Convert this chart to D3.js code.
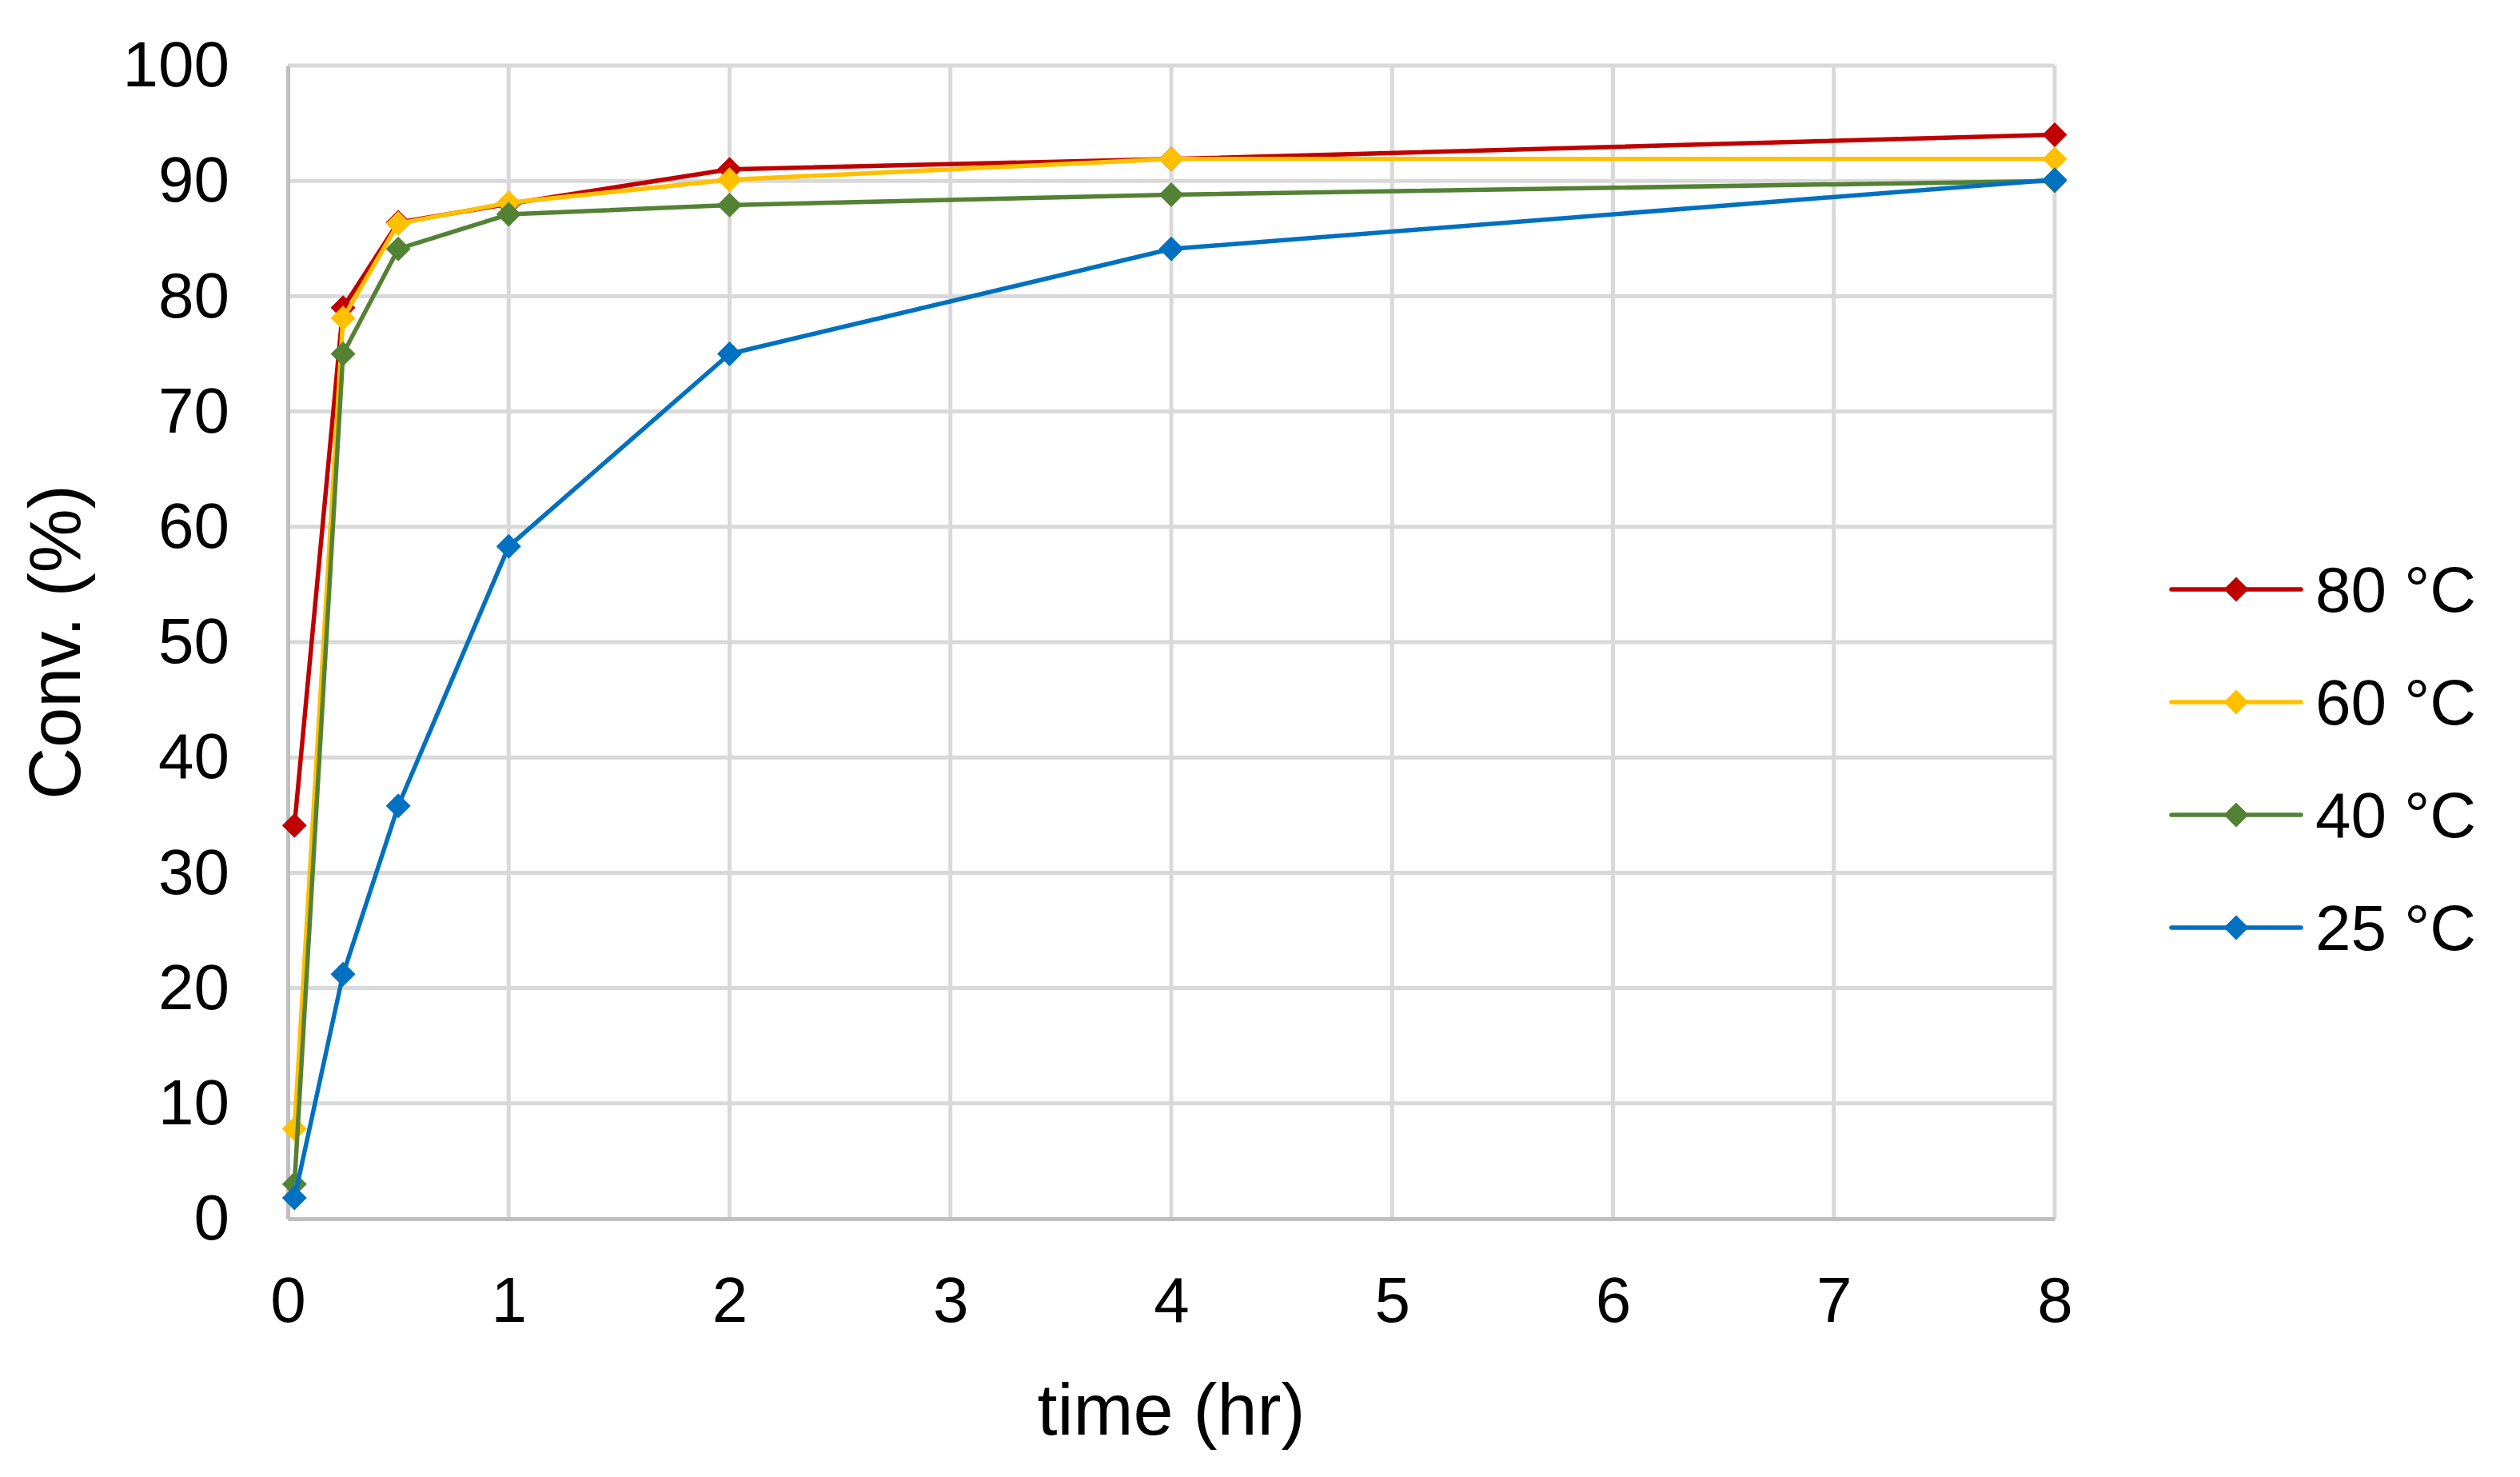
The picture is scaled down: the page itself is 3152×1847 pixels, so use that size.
<!DOCTYPE html>
<html>
<head>
<meta charset="utf-8">
<script src="https://cdn.jsdelivr.net/npm/d3@7"></script>
<style>
  body { margin: 0; background: #fff; }
  text { font-family: "Liberation Sans", Arial, sans-serif; fill: #000; }
</style>
</head>
<body>
<svg id="chart" width="3152" height="1847"></svg>
<script>
// data
var times = [0.03, 0.25, 0.5, 1, 2, 4, 8];
var conv80 = [34.1, 79.0, 86.4, 88.0, 91.0, 91.9, 94.0];
var conv60 = [7.8, 78.1, 86.3, 88.1, 90.1, 91.9, 91.9];
var conv40 = [3.0, 75.0, 84.1, 87.1, 87.9, 88.8, 90.0];
var conv25 = [1.8, 21.2, 35.8, 58.3, 75.0, 84.1, 90.1];
var seriesNames = ["80 °C", "60 °C", "40 °C", "25 °C"];
var xTicks = [0, 1, 2, 3, 4, 5, 6, 7, 8];
var yTicks = [0, 10, 20, 30, 40, 50, 60, 70, 80, 90, 100];

var colors = ["#C00000", "#FFC000", "#548235", "#0070C0"];
var allSeries = [conv80, conv60, conv40, conv25];

var svg = d3.select("#chart");

//Plot area (window.top is taken, so prefix these)
var plotLeft = 360, plotRight = 2570, plotTop = 82, plotBottom = 1524;

var x = d3.scaleLinear().domain([0, 8]).range([plotLeft, plotRight]);
var y = d3.scaleLinear().domain([0, 100]).range([plotBottom, plotTop]);

// gridlines
svg.append("g").selectAll("line")
  .data(yTicks.filter(function(d){return d > 0;}))
  .enter().append("line")
  .attr("x1", plotLeft).attr("x2", plotRight)
  .attr("y1", function(d){return y(d);}).attr("y2", function(d){return y(d);})
  .attr("stroke", "#d9d9d9").attr("stroke-width", 5);

svg.append("g").selectAll("line")
  .data(xTicks.filter(function(d){return d > 0;}))
  .enter().append("line")
  .attr("y1", plotTop).attr("y2", plotBottom)
  .attr("x1", function(d){return x(d);}).attr("x2", function(d){return x(d);})
  .attr("stroke", "#d9d9d9").attr("stroke-width", 5);

// axes with d3 axis generators, then restyled
var xAxis = svg.append("g")
  .attr("transform", "translate(0," + plotBottom + ")")
  .call(d3.axisBottom(x).tickValues(xTicks).tickSize(0).tickPadding(72).tickFormat(d3.format("d")));
var yAxis = svg.append("g")
  .attr("transform", "translate(" + plotLeft + ",0)")
  .call(d3.axisLeft(y).tickValues(yTicks).tickSize(0).tickPadding(73).tickFormat(d3.format("d")));

[xAxis, yAxis].forEach(function(ax){
  ax.select(".domain").attr("stroke", "#bfbfbf").attr("stroke-width", 5);
  ax.selectAll("text").attr("font-size", 80).attr("font-family", null).attr("fill", "#000");
});
xAxis.selectAll("text").attr("dy", "0.71em").attr("y", 72);

// axis titles
svg.append("text")
  .attr("x", (plotLeft + plotRight) / 2).attr("y", 1794)
  .attr("text-anchor", "middle").attr("font-size", 90)
  .text("time (hr)");

svg.append("text")
  .attr("transform", "translate(100," + ((plotTop + plotBottom) / 2) + ") rotate(-90)")
  .attr("text-anchor", "middle").attr("font-size", 90)
  .text("Conv. (%)");

// series
var line = d3.line()
  .x(function(d, i){return x(times[i]);})
  .y(function(d){return y(d);});

var diamond = d3.symbol().type(d3.symbolSquare).size(480);

allSeries.forEach(function(vals, s){
  var g = svg.append("g");
  g.append("path")
    .attr("d", line(vals))
    .attr("fill", "none")
    .attr("stroke", colors[s])
    .attr("stroke-width", 5.5)
    .attr("stroke-linejoin", "round");
  g.selectAll("path.pt")
    .data(vals)
    .enter().append("path")
    .attr("class", "pt")
    .attr("d", diamond)
    .attr("transform", function(d, i){return "translate(" + x(times[i]) + "," + y(d) + ") rotate(45)";})
    .attr("fill", colors[s]);
});

// legend
var legend = svg.append("g").selectAll("g")
  .data(seriesNames)
  .enter().append("g")
  .attr("transform", function(d, i){return "translate(0," + (737 + i * 141) + ")";});

legend.append("line")
  .attr("x1", 2716).attr("x2", 2878)
  .attr("stroke", function(d, i){return colors[i];})
  .attr("stroke-width", 5.5)
  .attr("stroke-linecap", "round");
legend.append("path")
  .attr("d", diamond)
  .attr("transform", "translate(2797,0) rotate(45)")
  .attr("fill", function(d, i){return colors[i];});
legend.append("text")
  .attr("x", 2896).attr("dy", "0.35em")
  .attr("font-size", 80)
  .text(function(d){return d;});
</script>
</body>
</html>
